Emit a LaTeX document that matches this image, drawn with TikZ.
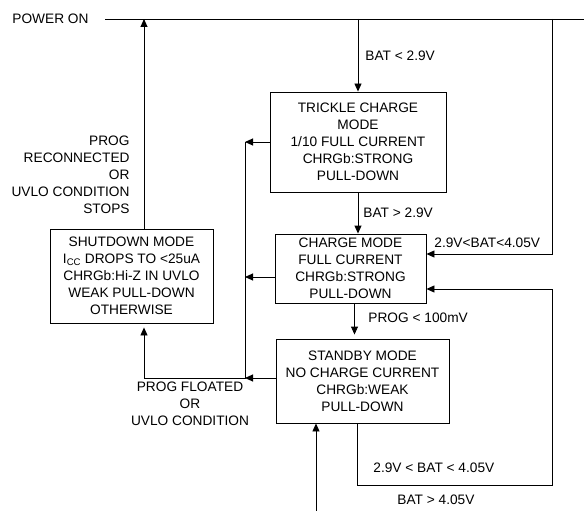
\documentclass[tikz,border=0pt]{standalone}
\usepackage{fontspec}
\setmainfont{Liberation Sans}
\usepackage{tikz}
\usetikzlibrary{arrows.meta, positioning}

\begin{document}
\begin{tikzpicture}[
    x=1pt, y=-1pt,
    >={Triangle[length=8pt, width=7pt]},
    line width=0.9pt,
    mode/.style={rectangle, draw, inner sep=0pt, align=center, font=\fontsize{13.7}{17}\selectfont},
    cond/.style={inner sep=0pt, font=\fontsize{13.7}{17}\selectfont},
]
\useasboundingbox (0,0) rectangle (584,511);

\node[mode, minimum width=176pt, minimum height=100pt] (trickle) at (358,142) {TRICKLE CHARGE\\MODE\\1/10 FULL CURRENT\\CHRGb:STRONG\\PULL-DOWN};
\node[mode, minimum width=151pt, minimum height=69pt] (charge) at (350.5,268.5) {CHARGE MODE\\FULL CURRENT\\CHRGb:STRONG\\PULL-DOWN};
\node[mode, minimum width=173pt, minimum height=84pt] (standby) at (362.5,381) {STANDBY MODE\\NO CHARGE CURRENT\\CHRGb:WEAK\\PULL-DOWN};
\node[mode, minimum width=163pt, minimum height=94pt] (shutdown) at (131.5,276) {SHUTDOWN MODE\\I\textsubscript{CC} DROPS TO <25uA\\CHRGb:Hi-Z IN UVLO\\WEAK PULL-DOWN\\OTHERWISE};

% Power-on rail and bends
\coordinate (pwrL) at (105,19);
\coordinate (pwrR) at (584,19);
\coordinate (busT) at (245,142);
\coordinate (rail) at (552,485);
\coordinate (batIn) at (316,511);
\coordinate (sdTop) at ([xshift=12.5pt]shutdown.north);
\coordinate (chgL) at ([yshift=-8.5pt]charge.west);
\coordinate (chgRT) at ([yshift=14.5pt]charge.east);
\coordinate (chgRB) at ([yshift=-20.5pt]charge.east);
\coordinate (chgB) at ([xshift=4pt]charge.south);
\coordinate (sbyL) at ([yshift=3pt]standby.west);
\coordinate (sbyB) at ([xshift=-5.5pt]standby.south);

\node[cond, left=16pt of pwrL] (pwrOn) {POWER ON};

\draw (pwrL) -- (pwrR);
\draw[->] (trickle.north |- pwrL) -- (trickle.north);
\draw[->] (trickle.south) -- (trickle.south |- charge.north);
\draw[->, shorten >=4pt] (chgB) -- (chgB |- standby.north);

% Back to shutdown
\draw[->] (trickle.west) -- (trickle.west -| busT);
\draw[->] (chgL) -- (chgL -| busT);
\draw[->] (sbyL) -- (sbyL -| busT);
\draw[->, shorten >=4pt] (busT) -- (sbyL -| busT) -- (sbyL -| sdTop) -- (sdTop |- shutdown.south);
\draw[->] (sdTop) -- (sdTop |- pwrL);

% Right-hand loops
\draw[->] (rail |- pwrL) -- (rail |- chgRT) -- (chgRT);
\draw[->] (sbyB) -- (sbyB |- rail) -- (rail) -- (rail |- chgRB) -- (chgRB);
\draw[->] (batIn) -- (batIn |- standby.south);

% Conditions
\node[cond, anchor=west] (lowBat) at (365,56) {BAT < 2.9V};
\node[cond, anchor=west] (aboveLow) at (363,213) {BAT > 2.9V};
\node[cond, anchor=west] (midBat) at (434,243) {2.9V<BAT<4.05V};
\node[cond, anchor=west] (progLow) at (368,318) {PROG < 100mV};
\node[cond, align=center] (progFloat) at (190,404) {PROG FLOATED\\OR\\UVLO CONDITION};
\node[cond, align=right, anchor=east] (progBack) at (130,175) {PROG\\RECONNECTED\\OR\\UVLO CONDITION\\STOPS};
\node[cond, anchor=west] (midBat2) at (373,468) {2.9V < BAT < 4.05V};
\node[cond, anchor=west] (highBat) at (397,500) {BAT > 4.05V};

\end{tikzpicture}
\end{document}
